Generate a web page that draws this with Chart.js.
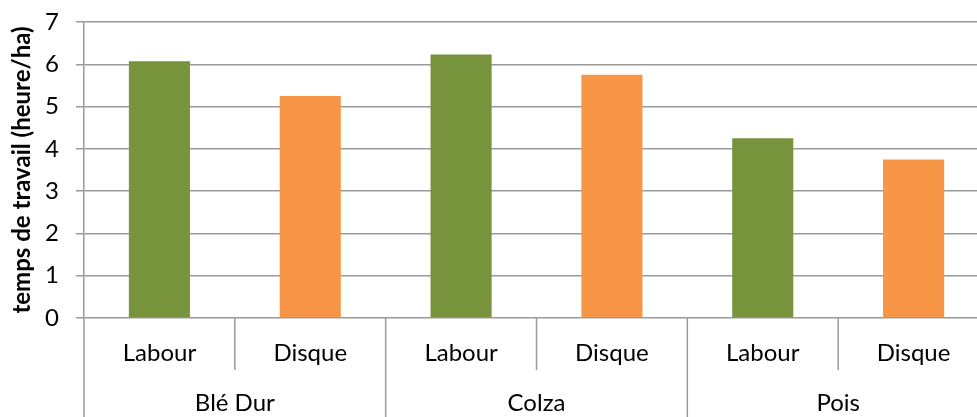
<!DOCTYPE html>
<html>
<head>
<meta charset="utf-8">
<script src="https://cdn.jsdelivr.net/npm/chart.js@4"></script>
<style>
  html, body { margin: 0; padding: 0; overflow: hidden; background: #fff; }
  #wrap { width: 1000px; height: 417px; }
</style>
</head>
<body>
<div id="wrap"><canvas id="chart" width="1000" height="417"></canvas></div>
<script>
const groups = ['Blé Dur', 'Colza', 'Pois'];
const methods = ['Labour', 'Disque'];
const labels = ['Labour', 'Disque', 'Labour', 'Disque', 'Labour', 'Disque'];
const values = [6.07, 5.25, 6.23, 5.75, 4.25, 3.75];
const yTicks = [0, 1, 2, 3, 4, 5, 6, 7];

const GREEN = '#77933c', ORANGE = '#f79646', LINE = '#9a9a9a';
const FONT = 'Lato, "Open Sans", sans-serif';

// draws the two-level category axis under the plot
const multiAxis = {
  id: 'multiAxis',
  afterDraw(c) {
    const x = c.scales.x, y = c.scales.y, ctx = c.ctx;
    const base = y.getPixelForValue(0);
    const step = x.getPixelForValue(1) - x.getPixelForValue(0);
    const bottom = c.height;
    ctx.save();
    ctx.strokeStyle = LINE;
    ctx.lineWidth = 1.5;
    ctx.fillStyle = '#000';
    ctx.font = '24px ' + FONT;
    ctx.textAlign = 'center';
    ctx.textBaseline = 'middle';
    labels.forEach((lab, i) => {
      const cx = x.getPixelForValue(i);
      const left = cx - step / 2;
      const full = i % methods.length === 0;
      ctx.beginPath();
      ctx.moveTo(left, base);
      ctx.lineTo(left, full ? bottom : base + 52);
      ctx.stroke();
      ctx.fillText(lab, cx, base + 35);
    });
    groups.forEach((g, gi) => {
      const a = x.getPixelForValue(gi * methods.length) - step / 2;
      const b = a + step * methods.length;
      ctx.fillText(g, (a + b) / 2, base + 85);
    });
    ctx.restore();
  }
};

new Chart(document.getElementById('chart'), {
  type: 'bar',
  data: {
    labels: labels,
    datasets: [{
      data: values,
      backgroundColor: labels.map((l, i) => i % 2 ? ORANGE : GREEN),
      categoryPercentage: 1,
      barPercentage: 0.405
    }]
  },
  options: {
    responsive: false,
    animation: false,
    layout: { padding: { top: 22, right: 11, bottom: 91, left: 0 } },
    plugins: { legend: { display: false }, tooltip: { enabled: false } },
    scales: {
      x: {
        ticks: { display: false },
        grid: { display: false },
        border: { display: false }
      },
      y: {
        min: 0, max: 7,
        afterBuildTicks: s => { s.ticks = yTicks.map(v => ({ value: v })); },
        afterFit: s => { s.width = 84; s.paddingTop = 0; s.paddingBottom = 0; },
        ticks: { font: { family: FONT, size: 24 }, color: '#000', padding: 17 },
        grid: { color: LINE, lineWidth: 1.5, tickLength: 8 },
        border: { color: LINE, width: 1.5 },
        title: {
          display: true,
          text: 'temps de travail (heure/ha)',
          font: { family: FONT, size: 24, weight: 'bold' },
          color: '#000',
          padding: { top: 8, bottom: 2 }
        }
      }
    }
  },
  plugins: [multiAxis]
});
</script>
</body>
</html>
